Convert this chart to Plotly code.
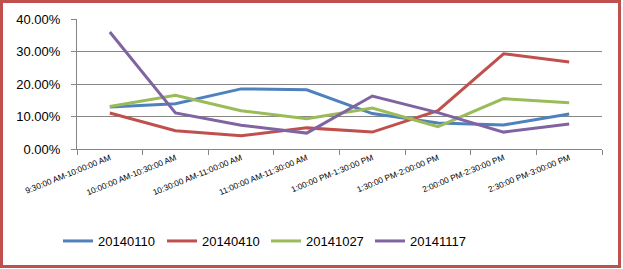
import plotly.graph_objects as go

categories = ["9:30:00 AM-10:00:00 AM", "10:00:00 AM-10:30:00 AM", "10:30:00 AM-11:00:00 AM",
              "11:00:00 AM-11:30:00 AM", "1:00:00 PM-1:30:00 PM", "1:30:00 PM-2:00:00 PM",
              "2:00:00 PM-2:30:00 PM", "2:30:00 PM-3:00:00 PM"]
s20140110 = [0.129, 0.139, 0.185, 0.182, 0.109, 0.080, 0.074, 0.108]
s20140410 = [0.111, 0.056, 0.041, 0.065, 0.052, 0.118, 0.293, 0.268]
s20141027 = [0.131, 0.165, 0.118, 0.093, 0.126, 0.069, 0.155, 0.142]
s20141117 = [0.360, 0.111, 0.073, 0.049, 0.163, 0.112, 0.052, 0.077]
series_names = ["20140110", "20140410", "20141027", "20141117"]
colors = ["#4F81BD", "#C0504D", "#9BBB59", "#8064A2"]

fig = go.Figure()
for name, vals, col in zip(series_names, [s20140110, s20140410, s20141027, s20141117], colors):
    fig.add_trace(go.Scatter(x=categories, y=vals, mode="lines", name=name,
                             line=dict(color=col, width=3)))

W, H = 623, 269
L, R, T, B = 77, 21, 19, 120
pw, ph = W - L - R, H - T - B

def px(x):
    return (x - L) / pw

def py(y):
    return (H - B - y) / ph

fig.add_shape(type="rect", xref="paper", yref="paper",
              x0=px(1.5), x1=px(619.5), y0=py(1.5), y1=py(266.5),
              line=dict(color="#C0504D", width=3), fillcolor="rgba(0,0,0,0)", layer="below")

fig.update_layout(
    width=W, height=H, margin=dict(l=L, r=R, t=T, b=B, autoexpand=False),
    paper_bgcolor="white", plot_bgcolor="white",
    font=dict(family="Liberation Sans, Arial, sans-serif", color="#000000"),
    showlegend=True,
    legend=dict(orientation="h", x=px(58), xanchor="left", y=py(241), yanchor="middle",
                font=dict(size=13), itemwidth=30, entrywidth=59, entrywidthmode="pixels",
                bgcolor="rgba(0,0,0,0)"),
    xaxis=dict(type="category", range=[-0.5, 7.5], tickangle=-22, automargin=False,
               tickfont=dict(size=8.3), showgrid=False, showline=True,
               linecolor="#868686", linewidth=1, ticks="outside", tickson="boundaries",
               ticklen=5, tickcolor="#868686", zeroline=False),
    yaxis=dict(range=[0, 0.4], dtick=0.1, tickformat=".2%", tickfont=dict(size=13),
               automargin=False, ticklabelstandoff=8,
               showgrid=True, gridcolor="#868686", gridwidth=1, showline=True,
               linecolor="#868686", linewidth=1, ticks="outside", ticklen=5,
               tickcolor="#868686", zeroline=False),
)

fig.write_html("out.html", config={"displayModeBar": False},
               post_script="document.body.style.margin='0';document.body.style.overflow='hidden';")
